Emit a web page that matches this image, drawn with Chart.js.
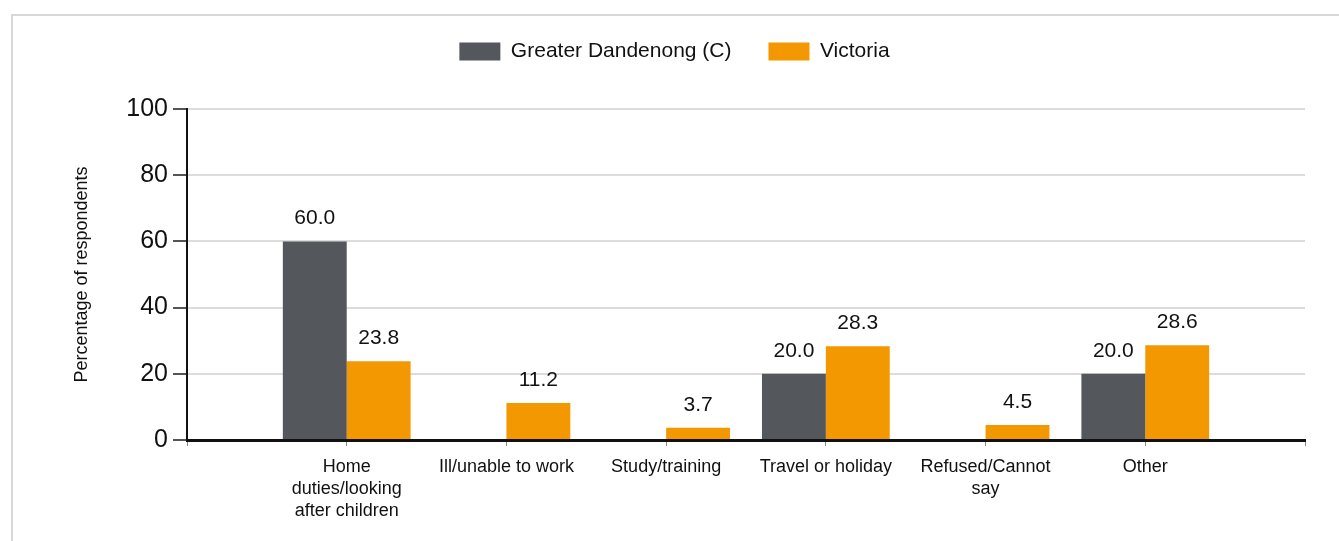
<!DOCTYPE html>
<html>
<head>
<meta charset="utf-8">
<script src="https://cdn.jsdelivr.net/npm/chart.js@4.4.1/dist/chart.umd.min.js"></script>
<style>
  html, body { margin: 0; padding: 0; background: #fff; overflow: hidden; }
  #frame { position: absolute; left: 11px; top: 14px; width: 1400px; height: 600px; border: 2px solid #d8d8d8; box-sizing: border-box; }
  #c { position: absolute; left: 0; top: 0; }
</style>
</head>
<body>
<div id="frame"></div>
<canvas id="c" width="1339" height="541"></canvas>
<script>
const categories = [
  ["Home", "duties/looking", "after children"],
  "Ill/unable to work",
  "Study/training",
  "Travel or holiday",
  ["Refused/Cannot", "say"],
  "Other"
];
const seriesNames = ["Greater Dandenong (C)", "Victoria"];
const dandenongValues = [60.0, null, null, 20.0, null, 20.0];
const victoriaValues = [23.8, 11.2, 3.7, 28.3, 4.5, 28.6];
const yTicks = [0, 20, 40, 60, 80, 100];
const yTitle = "Percentage of respondents";

// pad the category axis with an empty slot at each end
const labels = [""].concat(categories, [""]);
const pad = arr => [null].concat(arr, [null]);

const FONT = "'Liberation Sans', Arial, Helvetica, sans-serif";

const legendSpacer = {
  id: 'legendSpacer',
  beforeLayout(chart) {
    const lg = chart.legend;
    if (lg && !lg._spaced) {
      const orig = lg.fit;
      lg.fit = function () { orig.call(this); this.height = 105; };
      lg._spaced = true;
    }
  }
};

const valueLabels = {
  id: 'valueLabels',
  afterDatasetsDraw(chart) {
    const ctx = chart.ctx;
    ctx.save();
    ctx.font = "21px " + FONT;
    ctx.fillStyle = '#111';
    ctx.textAlign = 'center';
    ctx.textBaseline = 'alphabetic';
    chart.data.datasets.forEach((ds, di) => {
      const meta = chart.getDatasetMeta(di);
      meta.data.forEach((bar, i) => {
        const v = ds.data[i];
        if (v === null || v === undefined) return;
        ctx.fillText(v.toFixed(1), bar.x, bar.y - 17);
      });
    });
    ctx.restore();
  }
};

new Chart(document.getElementById('c'), {
  type: 'bar',
  data: {
    labels: labels,
    datasets: [
      { label: seriesNames[0], data: pad(dandenongValues), backgroundColor: '#54575b', borderWidth: 0 },
      { label: seriesNames[1], data: pad(victoriaValues), backgroundColor: '#f39800', borderWidth: 0 }
    ]
  },
  options: {
    responsive: false,
    animation: false,
    devicePixelRatio: 1,
    layout: { padding: { left: 44, right: 34, top: 4, bottom: 0 } },
    datasets: { bar: { categoryPercentage: 0.8, barPercentage: 1.0 } },
    plugins: {
      legend: {
        position: 'top',
        align: 'center',
        labels: {
          boxWidth: 41,
          boxHeight: 18,
          padding: 37,
          color: '#111',
          font: { family: FONT, size: 21 }
        }
      },
      tooltip: { enabled: false }
    },
    scales: {
      x: {
        offset: false,
        grid: { offset: false, drawOnChartArea: false, drawTicks: true, tickLength: 6, tickColor: '#888', lineWidth: 1 },
        border: { display: true, color: '#111', width: 3 },
        ticks: {
          autoSkip: false,
          maxRotation: 0,
          minRotation: 0,
          padding: 10,
          color: '#111',
          font: { family: FONT, size: 18, lineHeight: 1.22 }
        },
        afterFit(scale) { scale.height = 101; }
      },
      y: {
        min: 0,
        max: 100,
        afterBuildTicks(scale) { scale.ticks = yTicks.map(v => ({ value: v })); },
        grid: { color: '#dcdcdc', lineWidth: 2, tickLength: 14, tickColor: '#555' },
        border: { display: true, color: '#111', width: 2 },
        ticks: {
          padding: 5,
          color: '#111',
          font: { family: FONT, size: 25 }
        },
        title: {
          display: true,
          text: yTitle,
          color: '#111',
          font: { family: FONT, size: 18 },
          padding: { top: 27, bottom: 0 }
        },
        afterFit(scale) { scale.width = 143; }
      }
    }
  },
  plugins: [legendSpacer, valueLabels]
});
</script>
</body>
</html>
